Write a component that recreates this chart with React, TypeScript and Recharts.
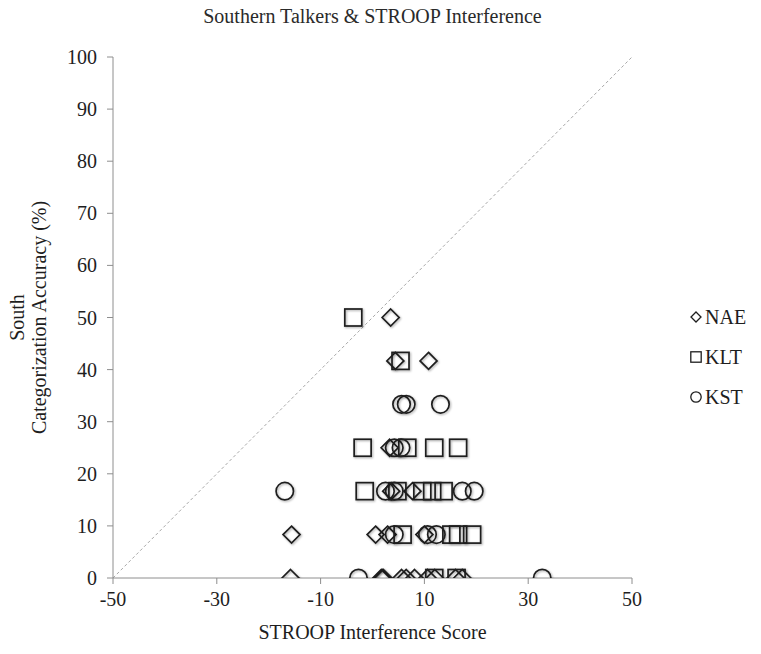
import React from 'react';
import { ScatterChart, Scatter, XAxis, YAxis, ReferenceLine, Legend } from 'recharts';

// tick labels
const xTicks = [-50, -30, -10, 10, 30, 50];
const yTicks = [0, 10, 20, 30, 40, 50, 60, 70, 80, 90, 100];
const seriesNames = ['NAE', 'KLT', 'KST'];

// NAE listeners (diamonds)
const naeScore = [3.5, 4.4, 10.8, 3.3, 3.6, 7.7, -15.6, 0.6, 2.9, 10.0, -15.8, 1.7, 1.9, 2.1, 5.6, 6.5, 8.1, 10.6, 12.0, 16.0, 17.3];
const naeAcc = [50, 41.67, 41.67, 25, 16.67, 16.67, 8.33, 8.33, 8.33, 8.33, 0, 0, 0, 0, 0, 0, 0, 0, 0, 0, 0];

// KLT listeners (squares)
const kltScore = [-3.7, 5.4, -1.9, 6.7, 11.9, 16.5, -1.5, 4.8, 9.6, 11.5, 13.7, 5.8, 15.2, 16.5, 19.2, 11.9, 16.2];
const kltAcc = [50, 41.67, 25, 25, 25, 25, 16.67, 16.67, 16.67, 16.67, 16.67, 8.33, 8.33, 8.33, 8.33, 0, 0];

// KST listeners (circles)
const kstScore = [5.6, 6.5, 13.1, 4.2, 5.5, -16.9, 2.5, 4.2, 17.3, 19.6, 4.2, 10.6, 12.3, -2.7, 32.7];
const kstAcc = [33.33, 33.33, 33.33, 25, 25, 16.67, 16.67, 16.67, 16.67, 16.67, 8.33, 8.33, 8.33, 0, 0];

const toPoints = (xs: number[], ys: number[]) => xs.map((x, i) => ({ x, y: ys[i] }));

const FONT = '"Liberation Serif", "DejaVu Serif", serif';
const INK = '#1e1e1e';
const AXIS = '#8e8e8e';
const SHADOW = 'drop-shadow(1px 1.5px 1px rgba(0,0,0,0.35))';

const Diamond = ({ cx, cy }: any) => {
  const r = 8.5;
  return (
    <path
      d={`M${cx},${cy - r}L${cx + r},${cy}L${cx},${cy + r}L${cx - r},${cy}Z`}
      fill="none" stroke={INK} strokeWidth={1.7} style={{ filter: SHADOW }}
    />
  );
};

const Square = ({ cx, cy }: any) => (
  <rect x={cx - 8.5} y={cy - 8.5} width={17} height={17}
    fill="none" stroke={INK} strokeWidth={1.7} style={{ filter: SHADOW }} />
);

const Circle = ({ cx, cy }: any) => (
  <circle cx={cx} cy={cy} r={8.7} fill="none" stroke={INK} strokeWidth={1.7} style={{ filter: SHADOW }} />
);

const legendIcon = (name: string) => {
  if (name === 'NAE') return <path d="M6,1L11,6L6,11L1,6Z" fill="#fff" stroke={INK} strokeWidth={1.3} />;
  if (name === 'KLT') return <rect x={0.8} y={0.8} width={10.4} height={10.4} fill="#fff" stroke={INK} strokeWidth={1.3} />;
  return <circle cx={6} cy={6} r={5.2} fill="#fff" stroke={INK} strokeWidth={1.3} />;
};

const LegendContent = () => (
  <div style={{ fontFamily: FONT, fontSize: 20, color: INK }}>
    {seriesNames.map((name) => (
      <div key={name} style={{ display: 'flex', alignItems: 'center', height: 40 }}>
        <svg width={12} height={12} style={{ marginRight: 3 }}>{legendIcon(name)}</svg>
        <span>{name}</span>
      </div>
    ))}
  </div>
);

const XTick = ({ x, y, payload }: any) => (
  <text x={x} y={y + 16} textAnchor="middle" style={{ fontFamily: FONT, fontSize: 20 }} fill={INK}>
    {payload.value}
  </text>
);

const YTick = ({ x, y, payload }: any) => (
  <text x={x} y={y + 7} textAnchor="end" style={{ fontFamily: FONT, fontSize: 20 }} fill={INK}>
    {payload.value}
  </text>
);

const YLabel = ({ viewBox }: any) => {
  const cy = viewBox.y + viewBox.height / 2;
  return (
    <g style={{ fontFamily: FONT, fontSize: 20 }} fill={INK} textAnchor="middle">
      <text x={24} y={cy} transform={`rotate(-90, 24, ${cy})`}>South</text>
      <text x={46} y={cy} transform={`rotate(-90, 46, ${cy})`}>Categorization Accuracy (%)</text>
    </g>
  );
};

const XLabel = ({ viewBox }: any) => (
  <text x={viewBox.x + viewBox.width / 2} y={viewBox.y + 61} textAnchor="middle"
    style={{ fontFamily: FONT, fontSize: 20 }} fill={INK}>
    STROOP Interference Score
  </text>
);

export default function App() {
  return (
    <div style={{ position: 'absolute', left: 0, top: 0, width: 761, height: 654, background: '#fff', fontFamily: FONT }}>
      <div style={{ position: 'absolute', left: 113, top: 5, width: 519, textAlign: 'center',
        fontFamily: FONT, fontSize: 20, color: '#2a2a2a' }}>
        Southern Talkers &amp; STROOP Interference
      </div>
      <ScatterChart width={761} height={654} margin={{ top: 57, right: 129, bottom: 0, left: 0 }}>
        <XAxis type="number" dataKey="x" domain={[-50, 50]} ticks={xTicks} interval={0}
          height={76} stroke={AXIS} tickSize={6} tickMargin={6} tick={<XTick />}
          label={<XLabel />} allowDataOverflow />
        <YAxis type="number" dataKey="y" domain={[0, 100]} ticks={yTicks} interval={0}
          width={113} stroke={AXIS} tickSize={6} tickMargin={10} tick={<YTick />}
          label={<YLabel />} allowDataOverflow />
        <ReferenceLine segment={[{ x: -50, y: 0 }, { x: 50, y: 100 }]} stroke="#a8a8a8"
          strokeDasharray="3 2.5" strokeWidth={1} ifOverflow="visible" />
        <Scatter name="NAE" data={toPoints(naeScore, naeAcc)} shape={<Diamond />} isAnimationActive={false} />
        <Scatter name="KLT" data={toPoints(kltScore, kltAcc)} shape={<Square />} isAnimationActive={false} />
        <Scatter name="KST" data={toPoints(kstScore, kstAcc)} shape={<Circle />} isAnimationActive={false} />
        <Legend layout="horizontal" verticalAlign="middle" align="center" content={<LegendContent />}
          wrapperStyle={{ position: 'absolute', left: 690, top: 297, width: 70, height: 120 }} />
      </ScatterChart>
    </div>
  );
}
